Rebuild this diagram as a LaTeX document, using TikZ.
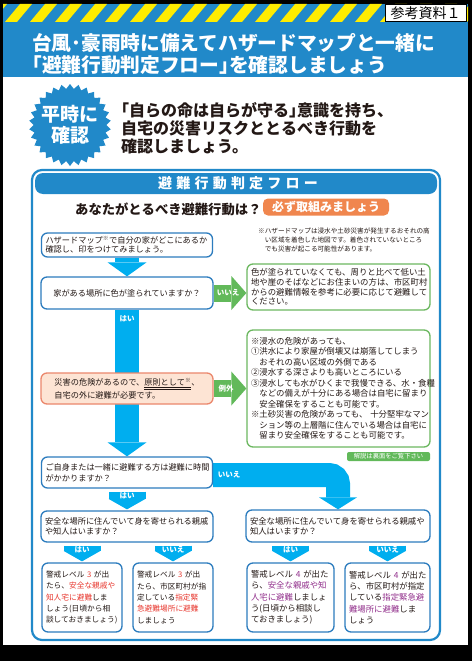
\documentclass[tikz,border=0pt]{standalone}
\usepackage{fontspec}
\setmainfont{Noto Sans CJK JP}
\usetikzlibrary{arrows.meta,shapes.geometric,calc}
\definecolor{hdrblue}{RGB}{33,137,201}
\definecolor{stripeyel}{RGB}{255,236,0}
\definecolor{flowcyan}{RGB}{0,174,239}
\definecolor{boxblue}{RGB}{44,124,190}
\definecolor{flowgreen}{RGB}{98,185,90}
\definecolor{boxgreen}{RGB}{108,184,96}
\definecolor{pillorange}{RGB}{240,134,78}
\definecolor{peachfill}{RGB}{253,228,212}
\definecolor{peachline}{RGB}{235,135,108}
\definecolor{txtdark}{RGB}{35,24,21}
\definecolor{redtxt}{RGB}{232,56,47}
\definecolor{purpletxt}{RGB}{146,48,140}
\pgfdeclarelayer{bg}
\pgfdeclarelayer{flow}
\pgfsetlayers{bg,flow,main}
\newcommand{\fsz}[2]{\fontsize{#1}{#2}\selectfont}
\newcommand{\lkagi}{\makebox[0.5em][r]{「}}
\newcommand{\rkagi}{\makebox[0.5em][l]{」}}
\tikzset{
  every node/.style={inner sep=0pt, text=txtdark},
  flowbox/.style={draw=boxblue, line width=1.3pt, rounded corners=6pt, fill=white, inner xsep=4pt, align=left, font=\fsz{8.2}{10}},
  greenbox/.style={flowbox, draw=boxgreen},
  tagtext/.style={text=white, font=\bfseries\fsz{7.5}{8}},
  bluearrow/.style={draw=flowcyan, line width=24pt, -{Triangle[width=39pt,length=14pt,line width=0pt]}},
  tabarrow/.style={draw=flowcyan, line width=37pt, shorten <=3pt, shorten >=1pt, -{Triangle[width=37pt,length=10.5pt,line width=0pt]}},
  greenarrow/.style={draw=flowgreen, line width=17pt, -{Triangle[width=34pt,length=15pt,line width=0pt]}},
}
\begin{document}
\begin{tikzpicture}[x=1pt,y=-1pt]
  \useasboundingbox (0,0) rectangle (472,661);
  % page, header band and stripes
  \begin{pgfonlayer}{bg}
    \fill[black] (0,0) rectangle (472,661);
    \fill[white] (3,4) rectangle (468,645);
    \fill[hdrblue] (3,4) rectangle (468,77);
    \begin{scope}
      \clip (3,4) rectangle (468,22);
      \foreach \x in {-20,5,...,470} {\fill[stripeyel] (\x,22) -- ++(12,0) -- ++(15,-18) -- ++(-12,0) -- cycle;}
    \end{scope}
  \end{pgfonlayer}
  \node[draw=black, fill=white, line width=0.8pt, minimum width=81pt, minimum height=17pt, text=black, font=\fsz{14}{14}] (refdoc) at (425.5,13) {参考資料１};
  \node[anchor=west, text=white, font=\bfseries\fsz{19.7}{20}] (title1) at (32,43) {台風･豪雨時に備えてハザードマップと一緒に};
  \node[anchor=west, text=white, font=\bfseries\fsz{19.7}{20}] (title2) at (32,65) {\lkagi 避難行動判定フロー\rkagi を確認しましょう};
  % everyday check
  \node[star, star points=30, star point ratio=1.13, minimum size=82pt, fill=hdrblue] (burst) at (70,125) {};
  \node[align=center, text=white, font=\bfseries\fsz{19}{21}] (burstlbl) at (burst.center) {平時に\\確認};
  \node[anchor=west, align=left, font=\bfseries\fsz{16}{18}] (motto) at (121,128) {\lkagi 自らの命は自らが守る\rkagi 意識を持ち、\\自宅の災害リスクととるべき行動を\\確認しましょう。};
  % flow frame
  \draw[hdrblue, line width=2.2pt, rounded corners=10pt] (32,170) rectangle (440,640);
  \fill[hdrblue, rounded corners=8pt] (35,173) rectangle (437,194);
  \node[text=white, font=\bfseries\fsz{14}{14}\addfontfeature{LetterSpace=30}] (flowtitle) at (238,183.5) {避難行動判定フロー};
  \node[anchor=west, font=\bfseries\fsz{13.3}{14}] (askq) at (75,209) {あなたがとるべき避難行動は？};
  \node[fill=pillorange, rounded corners=5pt, minimum width=126pt, minimum height=17pt, text=white, font=\bfseries\fsz{12}{12}] (mustdo) at (326,207) {必ず取組みましょう};
  \node[anchor=west, align=left, font=\fsz{6.6}{9}] (hmnote) at (258,240) {※ハザードマップは浸水や土砂災害が発生するおそれの高\\　い区域を着色した地図です。着色されていないところ\\　でも災害が起こる可能性があります。};
  % questions and answers
  \node[flowbox, minimum height=24pt, text width=163pt, font=\fsz{8.2}{9.2}] (hazard) at (127,245) {ハザードマップ\textsuperscript{※}で自分の家がどこにあるか\\確認し、印をつけてみましょう。};
  \node[flowbox, align=center, minimum width=172pt, minimum height=32pt] (colorq) at (127,293) {家がある場所に色が塗られていますか？};
  \node[greenbox, minimum height=46pt, text width=175pt, font=\fsz{8.4}{9.8}] (altA) at (338.5,287) {色が塗られていなくても、周りと比べて低い土\\地や崖のそばなどにお住まいの方は、市区町村\\からの避難情報を参考に必要に応じて避難して\\ください。};
  \node[greenbox, minimum height=117pt, text width=175pt, font=\fsz{8.4}{10.5}] (excB) at (338.5,388.5) {※浸水の危険があっても、\\①洪水により家屋が倒壊又は崩落してしまう\\　おそれの高い区域の外側である\\②浸水する深さよりも高いところにいる\\③浸水しても水がひくまで我慢できる、水・食糧\\　などの備えが十分にある場合は自宅に留まり\\　安全確保をすることも可能です。\\※土砂災害の危険があっても、~十分堅牢なマン\\　ション等の上層階に住んでいる場合は自宅に\\　留まり安全確保をすることも可能です。};
  \node[flowbox, draw=peachline, fill=peachfill, minimum width=172pt, minimum height=31pt, font=\fsz{8.2}{11}] (principle) at (127,388.5) {災害の危険があるので、\underline{\underline{原則として\textsuperscript{※}}}、\\自宅の外に避難が必要です。};
  \node[fill=flowgreen, rounded corners=2pt, minimum width=83pt, minimum height=9pt, text=white, font=\fsz{6.3}{7}] (seeback) at (388.5,456.5) {解説は裏面をご覧下さい};
  \node[flowbox, minimum height=31pt, text width=163pt, font=\fsz{8.2}{11}] (walkq) at (127,472.5) {ご自身または一緒に避難する方は避難に時間\\がかかりますか？};
  \node[flowbox, minimum height=31pt, text width=164pt] (riskL) at (127,526.5) {安全な場所に住んでいて身を寄せられる親戚\\や知人はいますか？};
  \node[flowbox, minimum height=32pt, text width=176pt, font=\fsz{8.35}{10}] (riskR) at (338,526) {安全な場所に住んでいて身を寄せられる親戚や\\知人はいますか？};
  \node[flowbox, minimum height=69pt, text width=72pt, font=\fsz{7.7}{11.3}] (goL1) at (82,597.5) {警戒レベル~\textcolor{redtxt}{3}~が出\\たら、\textcolor{redtxt}{安全な親戚や}\\\textcolor{redtxt}{知人宅に避難}しま\\しょう(日頃から相\\談しておきましょう)};
  \node[flowbox, minimum height=69pt, text width=72pt, font=\fsz{7.7}{11.3}] (goL2) at (173,597.5) {警戒レベル~\textcolor{redtxt}{3}~が出\\たら、市区町村が指\\定している\textcolor{redtxt}{指定緊}\\\textcolor{redtxt}{急避難場所に避難}\\しましょう};
  \node[flowbox, minimum height=69pt, text width=79pt, font=\fsz{8.4}{11.3}] (goR1) at (290.5,597.5) {警戒レベル~\textcolor{purpletxt}{4}~が出た\\ら、\textcolor{purpletxt}{安全な親戚や知}\\\textcolor{purpletxt}{人宅に避難}しましょ\\う(日頃から相談し\\ておきましょう)};
  \node[flowbox, minimum height=69pt, text width=77pt, font=\fsz{8.4}{11.3}] (goR2) at (387.5,597.5) {警戒レベル~\textcolor{purpletxt}{4}~が出た\\ら、市区町村が指定\\している\textcolor{purpletxt}{指定緊急避}\\\textcolor{purpletxt}{難場所に避難}しま\\しょう};
  % arrows behind the boxes
  \begin{pgfonlayer}{flow}
    \draw[bluearrow] (hazard.south) -- (colorq.north);
    \draw[bluearrow] (colorq.south) -- (walkq.north);
    \draw[bluearrow, rounded corners=9pt, -{Triangle[width=38pt,length=12pt,line width=0pt]}] ($(walkq.east)+(0,2.5)$) -| (riskR.north);
    \draw[tabarrow] (walkq.south) -- (riskL.north);
    \draw[tabarrow] (riskL.south -| goL1.north) -- (goL1.north);
    \draw[tabarrow] (riskL.south -| goL2.north) -- (goL2.north);
    \draw[tabarrow] (riskR.south -| goR1.north) -- (goR1.north);
    \draw[tabarrow] (riskR.south -| goR2.north) -- (goR2.north);
    \draw[greenarrow] (colorq.east) -- (colorq.east -| altA.west) node[tagtext, pos=0.44] (noA) {いいえ};
    \draw[greenarrow] (principle.east) -- (principle.east -| excB.west) node[tagtext, pos=0.38] (exc) {例外};
  \end{pgfonlayer}
  \node[tagtext] (yes1) at ($(colorq.south)+(0,9)$) {はい};
  \node[tagtext] (no2) at ($(walkq.east)+(16,2)$) {いいえ};
  \node[tagtext] (yes2) at ($(walkq.south)+(0,7.5)$) {はい};
  \node[tagtext] (yes3) at ($(riskL.south -| goL1.north)+(0,7.5)$) {はい};
  \node[tagtext] (no3) at ($(riskL.south -| goL2.north)+(0,7.5)$) {いいえ};
  \node[tagtext] (yes4) at ($(riskR.south -| goR1.north)+(0,7.5)$) {はい};
  \node[tagtext] (no4) at ($(riskR.south -| goR2.north)+(0,7.5)$) {いいえ};
\end{tikzpicture}
\end{document}
